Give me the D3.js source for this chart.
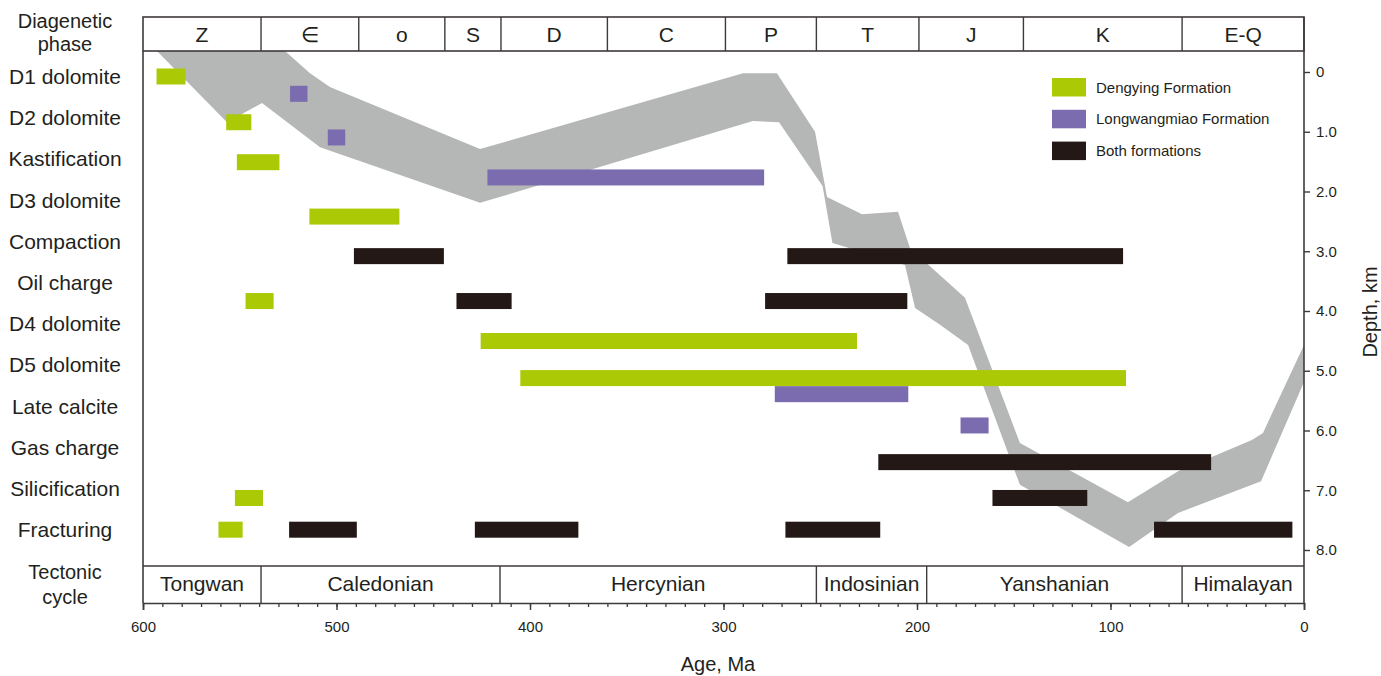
<!DOCTYPE html>
<html>
<head>
<meta charset="utf-8">
<script src="https://cdn.jsdelivr.net/npm/d3@7"></script>
<style>
    body { margin: 0; background: #fff; }
    svg text { font-family: "Liberation Sans", Arial, sans-serif; fill: #231f20; }
</style>
</head>
<body>
<svg id="chart" width="1381" height="676"></svg>
<script>
// Data
const phases = ['D1 dolomite', 'D2 dolomite', 'Kastification', 'D3 dolomite', 'Compaction', 'Oil charge',
    'D4 dolomite', 'D5 dolomite', 'Late calcite', 'Gas charge', 'Silicification', 'Fracturing'];

const periodNames = ['Z', '\u2208', 'o', 'S', 'D', 'C', 'P', 'T', 'J', 'K', 'E-Q'];
const periodBounds = [600, 539, 488.5, 444, 415, 360, 299, 252, 199, 145, 63, 0];

const cycleNames = ['Tongwan', 'Caledonian', 'Hercynian', 'Indosinian', 'Yanshanian', 'Himalayan'];
const cycleBounds = [600, 539, 415.5, 252, 195, 63, 0];

const formations = ['Dengying Formation', 'Longwangmiao Formation', 'Both formations'];
const formationColors = ['#abc904', '#7b6baf', '#231815'];

// [formation, from (Ma), to (Ma), row]
const events = [
    [0, 593, 578, 0],
    [1, 524, 515, 0.42],
    [0, 557, 544, 1.11],
    [1, 504.5, 495.5, 1.48],
    [0, 551.5, 529.5, 2.08],
    [1, 422, 279, 2.45],
    [0, 514, 467.5, 3.4],
    [2, 491, 444.5, 4.36],
    [2, 267, 93.5, 4.36],
    [0, 547, 532.5, 5.45],
    [2, 438, 409.5, 5.45],
    [2, 278.5, 205, 5.45],
    [0, 425.5, 231, 6.42],
    [0, 405, 92, 7.32],
    [1, 273.5, 204.5, 7.71],
    [1, 177.5, 163, 8.47],
    [2, 220, 48, 9.36],
    [0, 552.5, 538, 10.23],
    [2, 161, 112, 10.23],
    [0, 561, 548.5, 11],
    [2, 524.5, 489.5, 11],
    [2, 428.5, 375, 11],
    [2, 268, 219, 11],
    [2, 77.5, 6, 11]
];

// burial band edges [age Ma, depth km], old -> young
const burialTop = [[526.6, -0.35], [513.7, 0.02], [503.4, 0.25], [425.8, 1.29], [289.9, 0.02], [272.4, 0.02],
    [252.7, 1.0], [246.5, 2.09], [228.4, 2.38], [209.8, 2.34], [203.6, 2.95], [175.2, 3.78], [146.8, 6.21],
    [91, 7.2], [65.1, 6.68], [26.9, 6.16], [21.2, 6.04], [0, 4.57]];
const burialBottom = [[592.8, -0.35], [556.6, 0.84], [538.5, 0.52], [508.5, 1.26], [425.8, 2.19], [284.8, 0.82],
    [271.3, 0.84], [248.8, 1.91], [243.7, 2.86], [206.2, 3.23], [201, 3.95], [188.1, 4.23], [173.6, 4.57],
    [146.8, 6.91], [90.4, 7.95], [65.1, 7.38], [22.2, 6.85], [0, 5.19]];

const ageTicks = [600, 500, 400, 300, 200, 100, 0];
const depthTicks = [0, 1, 2, 3, 4, 5, 6, 7, 8];

// Layout
const left = 143, right = 1304;
const headTop = 17, headBottom = 51, plotBottom = 566, axisY = 603;
const lineColor = '#3e3a39';

const svg = d3.select('#chart');

const x = d3.scaleLinear().domain([600, 0]).range([left, right]);
const depth = d3.scaleLinear().domain([0, 8]).range([72, 550]);
const row = d3.scaleLinear().domain([0, 11]).range([76.5, 529.7]);
const barH = 16;

svg.append('clipPath').attr('id', 'plotClip')
    .append('rect')
    .attr('x', left).attr('y', headBottom)
    .attr('width', right - left).attr('height', plotBottom - headBottom);

// burial band
const band = burialTop.concat(burialBottom.slice().reverse());
svg.append('path')
    .attr('clip-path', 'url(#plotClip)')
    .attr('d', d3.line().x(d => x(d[0])).y(d => depth(d[1]))(band) + 'Z')
    .attr('fill', '#b5b6b6');

// event bars
svg.append('g').selectAll('rect')
    .data(events)
    .enter().append('rect')
    .attr('x', d => x(d[1]))
    .attr('width', d => x(d[2]) - x(d[1]))
    .attr('y', d => row(d[3]) - barH / 2)
    .attr('height', barH)
    .attr('fill', d => formationColors[d[0]]);

// row labels
svg.append('g').selectAll('text')
    .data(phases)
    .enter().append('text')
    .attr('x', 65)
    .attr('y', (d, i) => row(i) + 7.5)
    .attr('text-anchor', 'middle')
    .style('font-size', '21px')
    .text(d => d);

// header: periods
const periods = periodNames.map((n, i) => ({ name: n, from: periodBounds[i], to: periodBounds[i + 1] }));
svg.append('rect')
    .attr('x', left).attr('y', headTop)
    .attr('width', right - left).attr('height', headBottom - headTop)
    .attr('fill', 'none').attr('stroke', lineColor).attr('stroke-width', 1.6);
svg.append('g').selectAll('line')
    .data(periods.slice(1))
    .enter().append('line')
    .attr('x1', d => x(d.from)).attr('x2', d => x(d.from))
    .attr('y1', headTop).attr('y2', headBottom)
    .attr('stroke', lineColor).attr('stroke-width', 1.4);
svg.append('g').selectAll('text')
    .data(periods)
    .enter().append('text')
    .attr('x', d => (x(d.from) + x(d.to)) / 2)
    .attr('y', 42)
    .attr('text-anchor', 'middle')
    .style('font-size', '21px')
    .text(d => d.name);

// tectonic cycles
const cycles = cycleNames.map((n, i) => ({ name: n, from: cycleBounds[i], to: cycleBounds[i + 1] }));
svg.append('line')
    .attr('x1', left).attr('x2', right).attr('y1', plotBottom).attr('y2', plotBottom)
    .attr('stroke', lineColor).attr('stroke-width', 1.6);
svg.append('g').selectAll('line')
    .data(cycles.slice(1))
    .enter().append('line')
    .attr('x1', d => x(d.from)).attr('x2', d => x(d.from))
    .attr('y1', plotBottom).attr('y2', axisY)
    .attr('stroke', lineColor).attr('stroke-width', 1.4);
svg.append('g').selectAll('text')
    .data(cycles)
    .enter().append('text')
    .attr('x', d => (x(d.from) + x(d.to)) / 2)
    .attr('y', 591)
    .attr('text-anchor', 'middle')
    .style('font-size', '21px')
    .text(d => d.name);

// frame
svg.append('line')
    .attr('x1', left).attr('x2', left).attr('y1', headBottom).attr('y2', axisY)
    .attr('stroke', lineColor).attr('stroke-width', 1.6);

// bottom age axis
const minor = svg.append('g')
    .attr('transform', 'translate(0,' + axisY + ')')
    .call(d3.axisBottom(x).tickValues(d3.range(600, -1, -10)).tickSize(4).tickFormat(''));
minor.select('.domain').remove();
minor.selectAll('line').attr('stroke', lineColor).attr('stroke-width', 1.3);

const major = svg.append('g')
    .attr('transform', 'translate(0,' + axisY + ')')
    .call(d3.axisBottom(x).tickValues(ageTicks).tickSize(7).tickFormat(d3.format('d')));
major.select('.domain').attr('stroke', lineColor).attr('stroke-width', 1.6);
major.selectAll('line').attr('stroke', lineColor).attr('stroke-width', 1.4);
major.selectAll('text')
    .attr('y', 18)
    .style('font-size', '15px')
    .style('font-family', '"Liberation Sans", Arial, sans-serif')
    .attr('fill', '#231f20');

// right depth axis
const rightAxis = svg.append('g')
    .attr('transform', 'translate(' + right + ',0)')
    .call(d3.axisRight(depth).tickValues(depthTicks).tickSize(6).tickPadding(6)
        .tickFormat(d => d === 0 ? '0' : d.toFixed(1)));
rightAxis.select('.domain').remove();
rightAxis.selectAll('line').attr('stroke', lineColor).attr('stroke-width', 1.4);
rightAxis.selectAll('text')
    .style('font-size', '15px')
    .style('font-family', '"Liberation Sans", Arial, sans-serif')
    .attr('fill', '#231f20');
svg.append('line')
    .attr('x1', right).attr('x2', right).attr('y1', headTop).attr('y2', axisY)
    .attr('stroke', lineColor).attr('stroke-width', 1.6);

// axis titles and side captions
svg.append('text')
    .attr('x', 718).attr('y', 671)
    .attr('text-anchor', 'middle')
    .style('font-size', '20px')
    .text('Age, Ma');

svg.append('text')
    .attr('transform', 'translate(1377,312) rotate(-90)')
    .attr('text-anchor', 'middle')
    .style('font-size', '20px')
    .text('Depth, km');

svg.append('text').attr('x', 65).attr('y', 28).attr('text-anchor', 'middle')
    .style('font-size', '20px').text('Diagenetic');
svg.append('text').attr('x', 65).attr('y', 51).attr('text-anchor', 'middle')
    .style('font-size', '20px').text('phase');
svg.append('text').attr('x', 65).attr('y', 579).attr('text-anchor', 'middle')
    .style('font-size', '20px').text('Tectonic');
svg.append('text').attr('x', 65).attr('y', 604).attr('text-anchor', 'middle')
    .style('font-size', '20px').text('cycle');

// legend
const legend = svg.append('g').attr('transform', 'translate(1052,78)');
const items = legend.selectAll('g')
    .data(formations)
    .enter().append('g')
    .attr('transform', (d, i) => 'translate(0,' + (i * 31.8) + ')');
items.append('rect')
    .attr('width', 34).attr('height', 18.5)
    .attr('fill', (d, i) => formationColors[i]);
items.append('text')
    .attr('x', 44).attr('y', 14.5)
    .style('font-size', '15px')
    .text(d => d);
</script>
</body>
</html>
